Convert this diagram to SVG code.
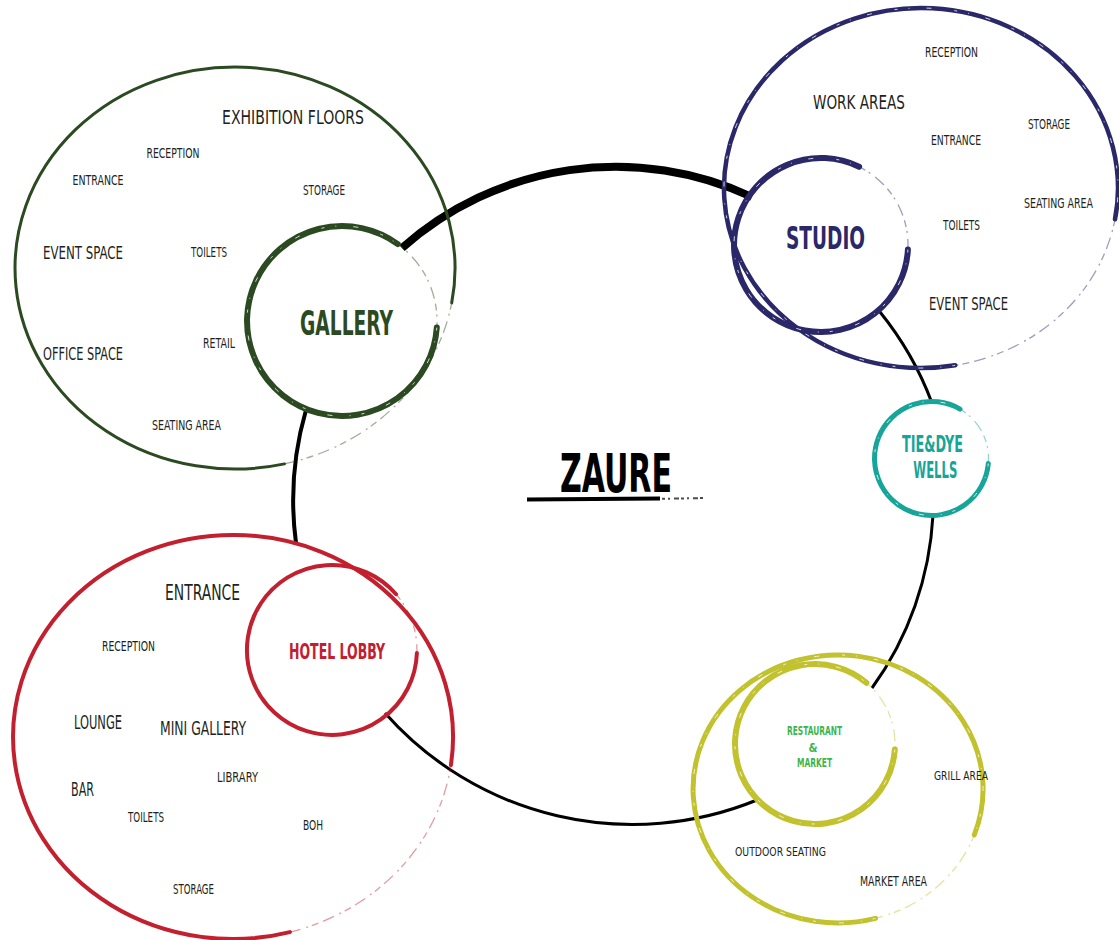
<svg xmlns="http://www.w3.org/2000/svg" width="1119" height="940" viewBox="0 0 1119 940">
<style>
.lbl{font-family:"Liberation Sans Narrow","DejaVu Sans Condensed","Liberation Sans",sans-serif;fill:#231f20;text-anchor:middle}
.ttl{font-family:"Liberation Sans Narrow","DejaVu Sans Condensed","Liberation Sans",sans-serif;font-weight:bold;text-anchor:middle}
.s{font-size:13.5px}
.m{font-size:18px}
.l{font-size:20px}
.ring{fill:none;stroke-linecap:round}
.fade{fill:none;stroke-width:1.3;opacity:.45;stroke-dasharray:7 4 2 6 12 5}
.tex{fill:none;stroke:#fff;stroke-width:1;stroke-dasharray:3 11 1 17 5 23;opacity:.8}
.con{fill:none;stroke:#000;stroke-linecap:butt}
</style>
<rect width="1119" height="940" fill="#fff"/>

<g id="connectors">
<path class="con" stroke-width="8" d="M402,248 A322,322 0 0 1 752,197"/>
<path class="con" stroke-width="3" d="M880,312 A325,325 0 0 1 932,403"/>
<path class="con" stroke-width="3" d="M933,515 A325,325 0 0 1 872,688"/>
<path class="con" stroke-width="3" d="M757,800 A330,330 0 0 1 385,713"/>
<path class="con" stroke-width="4" d="M296,543 A325,325 0 0 1 306,410"/>
</g>

<g id="gallery">
<path class="ring" stroke="#2c4a22" stroke-width="3" d="M284.5,463.9 A220,201 0 1 1 451.7,302.9"/>
<path class="fade" stroke="#2c4a22" d="M451.7,302.9 A220,201 0 0 1 284.5,463.9"/>
<path class="ring" stroke="#2c4a22" stroke-width="6" d="M436.8,327.6 A95,95 0 1 1 397.8,244.1"/>
<path class="tex" d="M436.8,327.6 A95,95 0 1 1 397.8,244.1"/>
<path class="fade" stroke="#2c4a22" d="M397.8,244.1 A95,95 0 0 1 436.8,327.6"/>
<text class="ttl" x="346.5" y="334.5" font-size="34" fill="#2c4a22" textLength="93" lengthAdjust="spacingAndGlyphs">GALLERY</text>
<text class="lbl l" x="293" y="124" textLength="142" lengthAdjust="spacingAndGlyphs">EXHIBITION FLOORS</text>
<text class="lbl s" x="173" y="158" textLength="53" lengthAdjust="spacingAndGlyphs">RECEPTION</text>
<text class="lbl s" x="98" y="185" textLength="51" lengthAdjust="spacingAndGlyphs">ENTRANCE</text>
<text class="lbl s" x="324" y="195" textLength="42" lengthAdjust="spacingAndGlyphs">STORAGE</text>
<text class="lbl m" x="83" y="258.5" textLength="80" lengthAdjust="spacingAndGlyphs">EVENT SPACE</text>
<text class="lbl s" x="209" y="257" textLength="36" lengthAdjust="spacingAndGlyphs">TOILETS</text>
<text class="lbl m" x="83" y="359.5" textLength="80" lengthAdjust="spacingAndGlyphs">OFFICE SPACE</text>
<text class="lbl s" x="219" y="348" textLength="32" lengthAdjust="spacingAndGlyphs">RETAIL</text>
<text class="lbl s" x="186.5" y="430" textLength="69" lengthAdjust="spacingAndGlyphs">SEATING AREA</text>
</g>

<g id="studio">
<path class="ring" stroke="#2a2868" stroke-width="4.5" d="M955.2,365.3 A197,180 0 1 1 1115,219.3"/>
<path class="tex" d="M955.2,365.3 A197,180 0 1 1 1115,219.3"/>
<path class="fade" stroke="#2a2868" d="M1115,219.3 A197,180 0 0 1 955.2,365.3"/>
<path class="ring" stroke="#2a2868" stroke-width="6" d="M907.9,249.6 A87,87 0 1 1 859.1,166.8"/>
<path class="tex" d="M907.9,249.6 A87,87 0 1 1 859.1,166.8"/>
<path class="fade" stroke="#2a2868" d="M859.1,166.8 A87,87 0 0 1 907.9,249.6"/>
<text class="ttl" x="825.5" y="248.5" font-size="32" fill="#2a2868" textLength="79" lengthAdjust="spacingAndGlyphs">STUDIO</text>
<text class="lbl s" x="951.5" y="57" textLength="53" lengthAdjust="spacingAndGlyphs">RECEPTION</text>
<text class="lbl l" x="859" y="108.5" textLength="92" lengthAdjust="spacingAndGlyphs">WORK AREAS</text>
<text class="lbl s" x="1049" y="129" textLength="42" lengthAdjust="spacingAndGlyphs">STORAGE</text>
<text class="lbl s" x="956" y="145" textLength="50" lengthAdjust="spacingAndGlyphs">ENTRANCE</text>
<text class="lbl s" x="1058.5" y="208" textLength="69" lengthAdjust="spacingAndGlyphs">SEATING AREA</text>
<text class="lbl s" x="961.5" y="230" textLength="37" lengthAdjust="spacingAndGlyphs">TOILETS</text>
<text class="lbl m" x="968.5" y="309.5" textLength="79" lengthAdjust="spacingAndGlyphs">EVENT SPACE</text>
</g>

<g id="tie-dye-wells">
<path class="ring" stroke="#17a59a" stroke-width="5" d="M988.3,463.5 A57,57 0 1 1 960,409.1"/>
<path class="tex" d="M988.3,463.5 A57,57 0 1 1 960,409.1"/>
<path class="fade" stroke="#17a59a" d="M960,409.1 A57,57 0 0 1 988.3,463.5"/>
<text class="ttl" x="932.5" y="451.5" font-size="23" fill="#17a59a" textLength="61" lengthAdjust="spacingAndGlyphs">TIE&amp;DYE</text>
<text class="ttl" x="935.3" y="477.5" font-size="23" fill="#17a59a" textLength="44" lengthAdjust="spacingAndGlyphs">WELLS</text>
</g>

<g id="restaurant-market">
<path class="ring" stroke="#c2c12e" stroke-width="5" d="M875.5,918.4 A145,134 0 1 1 974.3,834.8"/>
<path class="tex" d="M875.5,918.4 A145,134 0 1 1 974.3,834.8"/>
<path class="fade" stroke="#c2c12e" d="M974.3,834.8 A145,134 0 0 1 875.5,918.4"/>
<path class="ring" stroke="#c2c12e" stroke-width="6" d="M894.8,749.6 A80,80 0 1 1 866.4,682.7"/>
<path class="tex" d="M894.8,749.6 A80,80 0 1 1 866.4,682.7"/>
<path class="fade" stroke="#c2c12e" d="M866.4,682.7 A80,80 0 0 1 894.8,749.6"/>
<text class="ttl" x="814.5" y="735.3" font-size="11.5" fill="#3cb54a" textLength="55" lengthAdjust="spacingAndGlyphs">RESTAURANT</text>
<text class="ttl" x="813" y="752" font-size="11.5" fill="#3cb54a">&amp;</text>
<text class="ttl" x="814.5" y="767.3" font-size="11.5" fill="#3cb54a" textLength="35" lengthAdjust="spacingAndGlyphs">MARKET</text>
<text class="lbl" font-size="13" x="961" y="779.7" textLength="54" lengthAdjust="spacingAndGlyphs">GRILL AREA</text>
<text class="lbl" font-size="13" x="780.5" y="855.7" textLength="91" lengthAdjust="spacingAndGlyphs">OUTDOOR SEATING</text>
<text class="lbl" font-size="14" x="893.5" y="886.3" textLength="67" lengthAdjust="spacingAndGlyphs">MARKET AREA</text>
</g>

<g id="hotel-lobby">
<path class="ring" stroke="#c3202f" stroke-width="4" d="M289.9,932.1 A220,202 0 1 1 450.9,765.1"/>
<path class="fade" stroke="#c3202f" d="M450.9,765.1 A220,202 0 0 1 289.9,932.1"/>
<path class="ring" stroke="#c3202f" stroke-width="4" d="M416.9,653 A85,85 0 1 1 396.1,594.2"/>
<path class="fade" stroke="#c3202f" d="M396.1,594.2 A85,85 0 0 1 416.9,653"/>
<text class="ttl" x="337" y="658.5" font-size="21" fill="#c3202f" textLength="96" lengthAdjust="spacingAndGlyphs">HOTEL LOBBY</text>
<text class="lbl" font-size="22" x="202.5" y="600" textLength="75" lengthAdjust="spacingAndGlyphs">ENTRANCE</text>
<text class="lbl s" x="128.5" y="651" textLength="53" lengthAdjust="spacingAndGlyphs">RECEPTION</text>
<text class="lbl l" x="98" y="728.5" textLength="48" lengthAdjust="spacingAndGlyphs">LOUNGE</text>
<text class="lbl l" x="203" y="735" textLength="86" lengthAdjust="spacingAndGlyphs">MINI GALLERY</text>
<text class="lbl l" x="82.5" y="796" textLength="23" lengthAdjust="spacingAndGlyphs">BAR</text>
<text class="lbl s" x="237.5" y="782" textLength="41" lengthAdjust="spacingAndGlyphs">LIBRARY</text>
<text class="lbl s" x="146" y="822" textLength="36" lengthAdjust="spacingAndGlyphs">TOILETS</text>
<text class="lbl s" x="313" y="830" textLength="20" lengthAdjust="spacingAndGlyphs">BOH</text>
<text class="lbl s" x="193.5" y="894" textLength="41" lengthAdjust="spacingAndGlyphs">STORAGE</text>
</g>

<g id="title">
<text class="ttl" x="616" y="492" font-size="53" fill="#000" textLength="112" lengthAdjust="spacingAndGlyphs">ZAURE</text>
<path d="M527,499.5 L660,498.5" stroke="#000" stroke-width="4" fill="none"/>
<path d="M655,499 L705,498" stroke="#000" stroke-width="2" stroke-dasharray="5 2 3 3 2 4" fill="none" opacity=".7"/>
</g>
</svg>
